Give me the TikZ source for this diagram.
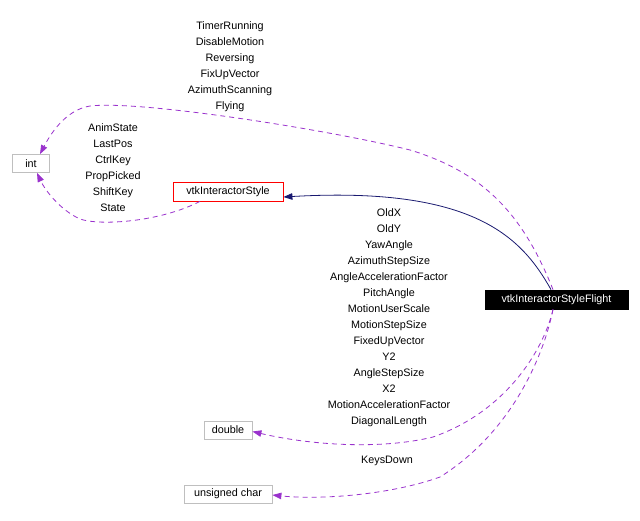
\documentclass[tikz,border=0pt]{standalone}
\usepackage{fontspec}
\setmainfont{Liberation Sans}
\usepackage{xcolor}
\usepackage{tikz}
\usetikzlibrary{arrows.meta,positioning}
\definecolor{dxpurple}{RGB}{154,50,205}
\definecolor{dxnavy}{RGB}{25,25,112}
\definecolor{dxgrey}{RGB}{191,191,191}
\definecolor{dxred}{RGB}{255,0,0}

\begin{document}
\begin{tikzpicture}[x=1pt,y=-1pt,
  cls/.style={rectangle,draw=dxgrey,line width=0.8pt,fill=white,minimum height=18pt,inner sep=0pt,font=\fontsize{10.8}{12}\selectfont},
  base/.style={cls,draw=dxred},
  self/.style={cls,draw=black,fill=black,text=white},
  lbl/.style={font=\fontsize{10.8}{16}\selectfont,align=center,inner sep=0pt},
  dep/.style={draw=dxpurple,line width=0.8pt,dashed,dash pattern=on 5pt off 4pt,-{Triangle[length=9pt,width=6.5pt]}},
  inh/.style={draw=dxnavy,line width=0.8pt,-{Triangle[length=9pt,width=6.5pt]}}]
\useasboundingbox[fill=white] (0,0) rectangle (640,520);
\node[cls,minimum width=37pt] (int) at (31,163.5) {int};
\node[base,minimum width=110pt,minimum height=19pt] (style) at (228,191.5) {vtkInteractorStyle};
\node[self,minimum width=143pt,minimum height=19pt] (flight) at (556.5,299.5) {vtkInteractorStyleFlight};
\node[cls,minimum width=48pt] (dbl) at (228,430) {double};
\node[cls,minimum width=88pt] (uchar) at (228,494) {unsigned char};
% edge labels
\node[lbl] (lblflag) at (230,67) {TimerRunning\\DisableMotion\\Reversing\\FixUpVector\\AzimuthScanning\\Flying};
\node[lbl] (lblstate) at (113,168) {AnimState\\LastPos\\CtrlKey\\PropPicked\\ShiftKey\\State};
\node[lbl] (lblgeom) at (389,318) {OldX\\OldY\\YawAngle\\AzimuthStepSize\\AngleAccelerationFactor\\PitchAngle\\MotionUserScale\\MotionStepSize\\FixedUpVector\\Y2\\AngleStepSize\\X2\\MotionAccelerationFactor\\DiagonalLength};
\node[lbl] (lblkeys) at (387,461) {KeysDown};
% connectors
\draw[inh] ([xshift=-5.5pt]flight.north) .. controls (522,238) and (475,186) .. ([yshift=-5.5pt]style.east);
\draw[dep] ([xshift=-3.5pt]flight.north) .. controls (522,212) and (482,172) .. (410,150)
  .. controls (330,130) and (140,100) .. (90,106) .. controls (65,110) and (50,135) .. ([xshift=9pt]int.north);
\draw[dep] ([xshift=-28pt]style.south) .. controls (160,222) and (100,226) .. (80,219)
  .. controls (60,210) and (45,190) .. ([xshift=6pt]int.south);
\draw[dep] ([xshift=-3.5pt]flight.south) .. controls (545,345) and (510,410) .. (433,437)
  .. controls (380,450) and (310,445) .. ([yshift=-1.5pt]dbl.east);
\draw[dep] ([xshift=-3.5pt]flight.south) .. controls (545,350) and (515,430) .. (440,477)
  .. controls (390,495) and (320,500) .. ([yshift=-1pt]uchar.east);
\end{tikzpicture}
\end{document}
